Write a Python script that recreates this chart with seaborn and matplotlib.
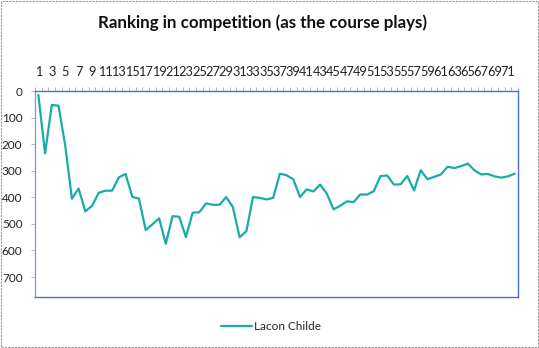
import matplotlib
matplotlib.use("Agg")
import matplotlib.pyplot as plt
import seaborn as sns
import pandas as pd
from matplotlib.patches import Rectangle
from matplotlib.ticker import FixedLocator

series_name = "Lacon Childe"
title = "Ranking in competition (as the course plays)"
holes = list(range(1, 73))
ranking = [15, 235, 53, 55, 204, 405, 367, 453, 432, 383,
           375, 375, 325, 312, 398, 405, 523, 502, 479, 575,
           471, 473, 550, 458, 456, 423, 428, 428, 399, 437,
           550, 528, 399, 402, 408, 402, 311, 317, 332, 399,
           370, 378, 352, 386, 445, 432, 415, 418, 389, 390,
           377, 320, 318, 352, 351, 320, 374, 298, 332, 323,
           314, 285, 290, 283, 273, 298, 314, 312, 321, 326,
           321, 311]
y_ticks = [0, 100, 200, 300, 400, 500, 600, 700]

sns.set_style("white")
plt.rcParams['font.family'] = ['Lato', 'DejaVu Sans']

df = pd.DataFrame({"hole": holes, "rank": ranking, "name": series_name})

fig = plt.figure(figsize=(5.39, 3.48), dpi=100)
ax = fig.add_axes([35/539, 1-297/348, (518-35)/539, (297-91)/348])

sns.lineplot(data=df, x="hole", y="rank", hue="name", palette=["#17ADA5"],
             linewidth=1.6, ax=ax)

ax.set_xlim(0.5, 72.5)
ax.set_ylim(775, 0)
ax.set_yticks(y_ticks)
ax.set_yticklabels([str(v) for v in y_ticks], fontsize=8.5, color="#222222")

odd = [h for h in holes if h % 2 == 1]
ax.xaxis.tick_top()
ax.set_xticks(odd)
ax.set_xticklabels([str(h) for h in odd], fontsize=9.2, color="#222222")
ax.xaxis.set_minor_locator(FixedLocator([h + 0.5 for h in range(0, 73)]))
ax.tick_params(axis="x", which="major", length=0, pad=9)
ax.tick_params(axis="x", which="minor", top=True, length=3, width=0.6,
               color="#aaaaaa", direction="out")
ax.tick_params(axis="y", which="major", left=True, length=3, width=0.6,
               color="#aaaaaa", pad=6)
ax.set_xlabel("")
ax.set_ylabel("")

for s in ax.spines.values():
    s.set_visible(True)
    s.set_color("#4a6fd8")
    s.set_linewidth(1.0)
ax.spines["left"].set_color("#8c9ccc")

fig.text(262/539, 1-23/348, title, ha="center", va="center",
         fontsize=12.2, fontweight="bold", color="#111111")

handles, labels = ax.get_legend_handles_labels()
ax.legend(handles, labels, loc="center", bbox_to_anchor=(271/539, 1-327/348),
          bbox_transform=fig.transFigure, frameon=False, fontsize=8.5,
          handlelength=2.6, handletextpad=0.2)

fig.patches.append(Rectangle((0.001, 0.002), 0.997, 0.995, transform=fig.transFigure,
                             fill=False, edgecolor="#999999", linestyle=(0, (2, 1)),
                             linewidth=0.8))

fig.savefig("out.png", dpi=100)
